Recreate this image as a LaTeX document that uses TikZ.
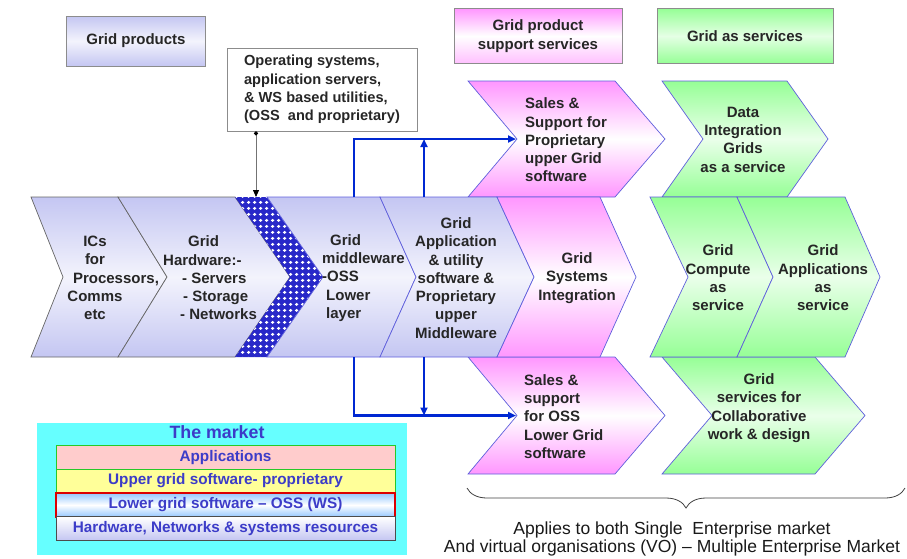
\documentclass[tikz,border=0pt]{standalone}
\usepackage{fontspec}
\setmainfont{Liberation Sans}
\usetikzlibrary{arrows.meta,patterns.meta,decorations.pathreplacing,positioning}

\definecolor{lavfill}{RGB}{196,198,242}
\definecolor{pinkfill}{RGB}{255,150,255}
\definecolor{greenfill}{RGB}{150,255,150}
\definecolor{edgeblue}{RGB}{95,95,220}
\definecolor{arrowblue}{RGB}{0,40,210}
\definecolor{meshblue}{RGB}{40,40,200}
\definecolor{marketcyan}{RGB}{102,255,255}
\definecolor{markettext}{RGB}{60,60,200}
\definecolor{rowpink}{RGB}{255,204,204}
\definecolor{rowyellow}{RGB}{255,255,153}
\definecolor{rowblue}{RGB}{150,200,255}
\definecolor{rowgreen}{RGB}{40,200,40}
\definecolor{rowred}{RGB}{220,0,0}

\tikzdeclarepattern{
  name=mesh,
  type=uncolored,
  bottom left={(0pt,0pt)},
  top right={(6pt,6pt)},
  tile size={(6pt,6pt)},
  code={\fill (3pt,3pt) ellipse (2.1pt and 1.8pt);}
}

\tikzset{
  lavchev/.style={draw=edgeblue, line width=0.7pt, top color=lavfill, bottom color=lavfill, middle color=white!80!lavfill},
  graychev/.style={lavchev, draw=black!60},
  pinkchev/.style={draw=edgeblue, line width=0.7pt, top color=pinkfill, bottom color=pinkfill, middle color=white},
  greenchev/.style={draw=edgeblue, line width=0.7pt, top color=greenfill, bottom color=greenfill, middle color=white!80!greenfill},
  chevtext/.style={inner sep=0pt, align=center, text=black!85, font=\fontsize{15}{18.3}\selectfont\bfseries},
  headbox/.style={draw=black!45, line width=0.8pt, inner sep=0pt, align=center, text=black!85, font=\fontsize{15}{19}\selectfont\bfseries},
  feed/.style={draw=arrowblue, line width=2.2pt},
  rowbox/.style={minimum width=339pt, minimum height=23.5pt, inner sep=0pt, line width=0.9pt, text=markettext, font=\fontsize{15.3}{18}\selectfont\bfseries}
}

\begin{document}
\begin{tikzpicture}[x=1pt, y=-1pt]
        \useasboundingbox (0,0) rectangle (907,558);
        % Header boxes:
        \node[headbox, top color=lavfill, bottom color=lavfill, middle color=white!80!lavfill, minimum width=139pt, minimum height=50pt] (N1) at (136,41) {Grid products};
        \node[headbox, fill=white, align=left, minimum width=190pt, minimum height=83pt, font=\fontsize{14.6}{18.3}\selectfont\bfseries] (N2) at (322,89.5) {Operating systems,\\application servers,\\\& WS based utilities,\\(OSS\ \ and proprietary)};
        \node[headbox, top color=pinkfill, bottom color=pinkfill!60, middle color=white, minimum width=168pt, minimum height=55pt] (N3) at (538,36) {Grid product\\support services};
        \node[headbox, top color=greenfill, bottom color=greenfill, middle color=white!75!greenfill, minimum width=176pt, minimum height=55pt] (N4) at (745,36) {Grid as services};
        % Upper and lower chevrons:
        \path[pinkchev] (468,81) -- (615,81) -- (665,139) -- (615,197) -- (468,197) -- (517,139) -- cycle;
        \path[greenchev] (662,81) -- (787,81) -- (828,139) -- (787,197) -- (662,197) -- (703,139) -- cycle;
        \path[pinkchev] (468,357) -- (615,357) -- (665,415.5) -- (615,474) -- (468,474) -- (517,415.5) -- cycle;
        \path[greenchev] (662,357) -- (815,357) -- (865,415.5) -- (815,474) -- (662,474) -- (712,415.5) -- cycle;
        % Main band:
        \path[graychev] (31,197) -- (118,197) -- (167,277) -- (118,357) -- (31,357) -- (63,277) -- cycle;
        \path[graychev] (118,197) -- (235,197) -- (290,277) -- (235,357) -- (118,357) -- (167,277) -- cycle;
        \fill[meshblue] (235,197) -- (267,197) -- (323,277) -- (267,357) -- (235,357) -- (290,277) -- cycle;
        \fill[pattern=mesh, pattern color=white] (235,197) -- (267,197) -- (323,277) -- (267,357) -- (235,357) -- (290,277) -- cycle;
        \path[lavchev] (267,197) -- (380,197) -- (416,277) -- (380,357) -- (267,357) -- (323,277) -- cycle;
        \path[lavchev] (380,197) -- (497,197) -- (534,277) -- (497,357) -- (380,357) -- (416,277) -- cycle;
        \path[pinkchev] (497,197) -- (600,197) -- (636,277) -- (600,357) -- (497,357) -- (534,277) -- cycle;
        \path[greenchev] (650,197) -- (737,197) -- (773,277) -- (737,357) -- (650,357) -- (688,277) -- cycle;
        \path[greenchev] (737,197) -- (845,197) -- (880,277) -- (845,357) -- (737,357) -- (773,277) -- cycle;
        % Chevron texts:
        \node[chevtext] (N5) at (95,278) {ICs\\for\\\hspace*{42pt}Processors,\\Comms\\etc};
        \node[chevtext, align=left, anchor=west] (N6) at (163,278) {\hspace*{25pt}Grid\\Hardware:-\\\hspace*{19pt}- Servers\\\hspace*{20pt}- Storage\\\hspace*{17pt}- Networks};
        \node[chevtext, align=left, anchor=west] (N7) at (322,278) {\hspace*{8pt}Grid\\middleware\\-OSS\\\hspace*{4pt}Lower\\\hspace*{4pt}layer};
        \node[chevtext] (N8) at (456,278) {Grid\\Application\\\& utility\\software \&\\Proprietary\\upper\\Middleware};
        \node[chevtext] (N9) at (577,278) {Grid\\Systems\\Integration};
        \node[chevtext] (N10) at (718,278) {Grid\\Compute\\as\\service};
        \node[chevtext] (N11) at (823,278) {Grid\\Applications\\as\\service};
        \node[chevtext, align=left, anchor=west] (N12) at (525,140) {Sales \&\\Support for\\Proprietary\\upper Grid\\software};
        \node[chevtext] (N13) at (743,139.5) {Data\\Integration\\Grids\\as a service};
        \node[chevtext, align=left, anchor=west] (N14) at (524,416.5) {Sales \&\\support\\for OSS\\Lower Grid\\software};
        \node[chevtext] (N15) at (759,408) {Grid\\services for\\Collaborative\\work \& design};
        % Connectors:
        \coordinate (C1) at (256,197);
        \coordinate (C2) at (354,197);
        \coordinate (C3) at (424,197);
        \coordinate (C4) at (516,139);
        \coordinate (C5) at (354,357);
        \coordinate (C6) at (424,357);
        \coordinate (C7) at (516,415.5);
        \draw[black!55, line width=0.8pt, {Circle[black, length=4pt]}-{Triangle[black, length=7pt, width=6pt]}] (C1 |- N2.south) -- (C1);
        \draw[feed, -{Triangle[length=8pt, width=7pt]}] (C2) |- (C4);
        \draw[feed, -{Triangle[length=8pt, width=7pt]}] (C3) -- (C3 |- C4);
        \draw[feed, -{Triangle[length=8pt, width=7pt]}] (C5) |- (C7);
        \draw[feed, -{Triangle[length=8pt, width=7pt]}] (C6) -- (C6 |- C7);
        % The market:
        \fill[marketcyan] (37,423) rectangle (407,555);
        \node[text=markettext, font=\fontsize{17.8}{20}\selectfont\bfseries] (N16) at (217,432) {The market};
        \node[rowbox, draw=rowgreen, fill=rowpink] (N17) at (225.5,457.5) {Applications};
        \node[rowbox, draw=rowgreen, fill=rowyellow] (N18) at (225.5,481) {Upper grid software- proprietary};
        \node[rowbox, draw=rowred, line width=1.8pt, top color=rowblue, bottom color=rowblue, middle color=white] (N19) at (225.5,505) {Lower grid software -- OSS (WS)};
        \node[rowbox, draw=black!70, top color=white, bottom color=lavfill] (N20) at (225.5,528.5) {Hardware, Networks \& systems resources};
        % Brace and note:
        \draw[black!75, line width=0.8pt, decorate, decoration={brace, mirror, amplitude=20pt}] (467,488) -- (905,488);
        \node[inner sep=0pt, align=center, text=black!90, font=\fontsize{17.5}{18}\selectfont] (N21) at (672,538.5) {Applies to both Single\ \ Enterprise market\\And virtual organisations (VO) -- Multiple Enterprise Market};
\end{tikzpicture}
\end{document}
